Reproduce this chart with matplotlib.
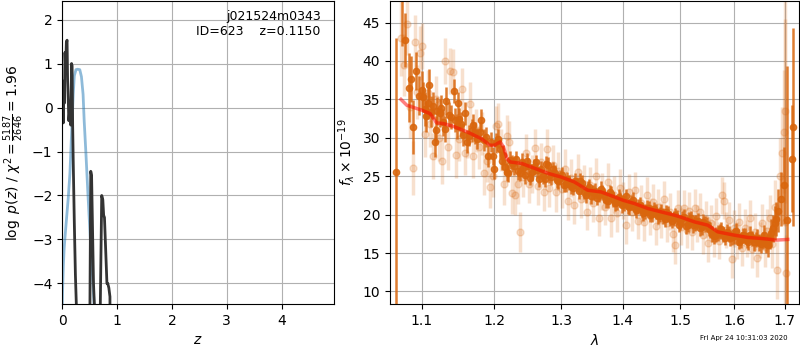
import numpy as np
import matplotlib
matplotlib.use("Agg")
import matplotlib.pyplot as plt
from matplotlib.ticker import FixedLocator, FixedFormatter, NullLocator

# ---------------- data: left panel (redshift PDF) ----------------
pz_z = [0.0, 0.005, 0.02, 0.035, 0.05, 0.08, 0.11, 0.14, 0.17, 0.20, 0.22,
        0.25, 0.28, 0.32, 0.35, 0.38, 0.40, 0.43, 0.47, 0.50, 0.53, 0.56, 0.59]
pz_logp = [-4.6, -4.2, -3.6, -3.2, -2.95, -2.5, -2.05, -1.5, -0.6, 0.3, 0.72,
           0.86, 0.87, 0.86, 0.7, 0.3, -0.3, -1.0, -2.0, -2.7, -3.4, -4.0, -4.7]

chi_z = [0.0, 0.005, 0.012, 0.02, 0.03, 0.04, 0.05, 0.062, 0.075, 0.088, 0.098,
         0.11, 0.12, 0.14, 0.155, 0.17, 0.18, 0.19, 0.20, 0.22, 0.24, 0.26, 0.27,
         0.49, 0.505, 0.52, 0.535, 0.55, 0.57, 0.59, 0.60,
         0.68, 0.694, 0.72, 0.74, 0.755, 0.77, 0.785, 0.80, 0.815, 0.83, 0.85, 0.87, 0.88]
chi_logp = [0.58, -0.3, 0.55, -0.35, 0.6, 0.1, 1.25, 0.9, 1.48, 1.53, 0.6,
            0.17, -0.3, 0.0, -0.4, 1.0, 0.95, -0.4, -1.2, -2.6, -3.8, -4.6, -10.0,
            -10.0, -4.5, -1.45, -1.55, -2.6, -4.0, -4.6, -10.0,
            -10.0, -4.5, -2.0, -2.1, -2.45, -2.5, -3.0, -3.5, -4.0, -4.0, -4.1, -4.3, -10.0]

# ---------------- data: right panel (spectrum) ----------------
model_wave = [1.073, 1.0805, 1.100, 1.111, 1.1198, 1.1287, 1.1422, 1.1616, 1.1813,
              1.1939, 1.200, 1.2084, 1.2134, 1.2183, 1.2231, 1.2404, 1.2604, 1.2807,
              1.300, 1.3208, 1.3422, 1.3638, 1.3859, 1.400, 1.4195, 1.4425, 1.4657,
              1.4893, 1.500, 1.5253, 1.550, 1.5687, 1.600, 1.6262, 1.6523, 1.6722,
              1.680, 1.706]
model_flux = [35.0, 34.24, 33.6, 33.16, 31.94, 31.86, 31.5, 30.77, 29.9,
              29.03, 29.03, 29.46, 28.8, 27.3, 26.86, 26.65, 26.0, 25.35,
              24.9, 24.26, 23.18, 22.96, 22.31, 21.88, 21.45, 20.8, 20.36,
              19.93, 19.7, 19.06, 18.63, 17.76, 17.33, 17.03, 16.9, 16.77,
              16.68, 16.77]

dark_wave = [1.0667, 1.0740, 1.0783, 1.0830, 1.0859, 1.0890, 1.0928, 1.0960, 1.1000,
             1.1040, 1.1087, 1.1120, 1.1175, 1.1210, 1.1240, 1.1280, 1.1328, 1.1396,
             1.1430, 1.1470, 1.1510, 1.1560, 1.1610, 1.1680, 1.1720, 1.1760, 1.1810,
             1.1850, 1.1910, 1.1950, 1.2000, 1.2030, 1.2080, 1.2130, 1.2180, 1.2230,
             1.2290, 1.2340, 1.2400, 1.2450, 1.2500, 1.2560, 1.2610, 1.2660, 1.2720,
             1.2770, 1.2820, 1.2880, 1.2930, 1.2990, 1.3050, 1.3100, 1.3160, 1.3220,
             1.3280, 1.3330, 1.3390, 1.3450, 1.3510, 1.3570, 1.3630, 1.3690, 1.3750,
             1.3810, 1.3870, 1.3930, 1.3990, 1.4050, 1.4110, 1.4170, 1.4230, 1.4290,
             1.4350, 1.4410, 1.4470, 1.4530, 1.4600, 1.4660, 1.4720, 1.4780, 1.4850,
             1.4910, 1.4970, 1.5030, 1.5100, 1.5160, 1.5230, 1.5290, 1.5360, 1.5420,
             1.5490, 1.5550, 1.5620, 1.5690, 1.5750, 1.5820, 1.5890, 1.5960, 1.6030,
             1.6100, 1.6170, 1.6240, 1.6310, 1.6380, 1.6450, 1.6520, 1.6590, 1.6660,
             1.6730, 1.6800, 1.6860, 1.6920, 1.6983, 1.7050, 1.7140, 1.7162]
dark_flux = [25.5, 50.0, 42.7, 36.5, 37.6, 31.4, 38.7, 35.5, 36.2,
             33.8, 34.5, 33.4, 29.5, 33.5, 33.2, 32.0, 34.8, 32.7,
             36.1, 31.5, 32.4, 30.4, 29.5, 31.0, 30.6, 29.9, 32.3,
             29.7, 27.6, 29.4, 26.0, 29.3, 28.6, 27.7, 25.6, 27.1,
             26.3, 25.7, 26.9, 25.1, 26.3, 25.5, 26.8, 24.6, 25.0,
             26.6, 25.1, 25.9, 24.5, 24.8, 23.9, 24.6, 23.7, 24.4,
             23.1, 24.1, 22.5, 23.6, 22.9, 22.2, 23.4, 22.5, 21.8,
             22.7, 21.5, 22.3, 21.2, 22.4, 21.0, 21.9, 20.6, 21.3,
             20.2, 20.9, 20.0, 20.7, 19.8, 20.4, 19.4, 20.1, 19.2,
             19.9, 18.7, 19.5, 18.5, 19.3, 18.6, 19.0, 18.2, 19.1,
             18.7, 18.0, 17.2, 17.6, 18.1, 17.0, 17.5, 17.1, 17.9,
             16.5, 17.3, 16.7, 17.4, 16.4, 17.0, 16.2, 17.3, 16.0,
             17.6, 18.9, 20.5, 22.0, 23.8, 19.3, 27.3, 31.4]
dark_err = [17.5, 8.0, 3.5, 4.5, 3.0, 3.5, 2.5, 2.5, 2.5,
            2.2, 2.0, 2.0, 2.0, 1.8, 1.8, 1.8, 1.8, 1.6,
            1.6, 1.6, 1.5, 1.5, 1.5, 1.5, 1.4, 1.4, 1.4,
            1.4, 1.4, 1.3, 1.3, 1.3, 1.3, 1.3, 1.2, 1.2,
            1.2, 1.2, 1.1, 1.1, 1.1, 1.1, 1.0, 1.0, 1.0,
            1.0, 1.0, 1.0, 1.0, 1.0, 1.0, 1.0, 1.0, 1.0,
            1.0, 1.0, 1.0, 1.0, 1.0, 1.0, 1.0, 1.0, 1.0,
            1.0, 1.0, 1.0, 1.0, 1.0, 1.0, 1.0, 1.0, 1.0,
            1.0, 1.0, 1.0, 1.0, 1.0, 1.0, 1.0, 1.0, 1.0,
            1.0, 1.0, 1.0, 1.0, 1.0, 1.0, 1.0, 1.0, 1.0,
            1.0, 1.0, 1.0, 1.0, 1.0, 1.0, 1.0, 1.0, 1.0,
            1.0, 1.0, 1.0, 1.1, 1.1, 1.1, 1.2, 1.3, 1.5,
            1.8, 2.2, 2.8, 3.5, 5.0, 20.0, 7.0, 12.9]

dark2_wave = [1.1015, 1.1060, 1.1100, 1.1150, 1.1195, 1.1260, 1.1305, 1.1365, 1.1450,
              1.1490, 1.1535, 1.1585, 1.1640, 1.1700, 1.1790, 1.1880, 1.1980, 1.2055,
              1.2105, 1.2155, 1.2205, 1.2260, 1.2320, 1.2370, 1.2425, 1.2475, 1.2530,
              1.2585, 1.2635, 1.2690, 1.2745, 1.2795, 1.2850, 1.2905, 1.2960, 1.3020,
              1.3075, 1.3130, 1.3190, 1.3250, 1.3305, 1.3360, 1.3420, 1.3480, 1.3540,
              1.3600, 1.3660, 1.3720, 1.3780, 1.3840, 1.3900, 1.3960, 1.4020, 1.4080,
              1.4140, 1.4200, 1.4260, 1.4320, 1.4380, 1.4440, 1.4500, 1.4565, 1.4630,
              1.4690, 1.4750, 1.4815, 1.4880, 1.4940, 1.5000, 1.5065, 1.5130, 1.5195,
              1.5260, 1.5325, 1.5390, 1.5455, 1.5520, 1.5585, 1.5655, 1.5720, 1.5785,
              1.5855, 1.5925, 1.5995, 1.6065, 1.6135, 1.6205, 1.6275, 1.6345, 1.6415,
              1.6485, 1.6555, 1.6625, 1.6695, 1.6765, 1.6830]
dark2_flux = [35.3, 32.8, 36.9, 34.2, 31.0, 33.9, 31.2, 33.0, 32.3,
              34.5, 31.8, 33.2, 30.3, 31.7, 30.8, 30.1, 27.6, 29.9,
              27.0, 26.2, 25.4, 26.7, 27.3, 25.4, 26.1, 27.0, 24.8,
              26.2, 25.8, 26.0, 24.6, 26.5, 24.9, 25.4, 24.4, 25.2,
              24.0, 24.2, 23.5, 23.9, 24.4, 23.0, 23.4, 22.4, 23.1,
              22.6, 22.9, 21.9, 22.9, 22.0, 21.6, 22.0, 21.5, 21.1,
              21.6, 20.9, 21.1, 20.6, 20.4, 20.8, 20.1, 20.4, 20.0,
              19.8, 20.3, 19.5, 19.5, 19.6, 19.0, 19.7, 18.7, 19.5,
              18.9, 19.2, 18.4, 18.8, 18.2, 17.5, 17.4, 17.8, 17.4,
              17.8, 16.9, 17.2, 17.1, 16.7, 17.2, 16.4, 16.9, 16.8,
              16.4, 16.6, 16.2, 16.9, 18.2, 19.4]
dark2_err = [2.0, 2.0, 2.0, 1.8, 1.8, 1.7, 1.7, 1.6, 1.6,
             1.5, 1.5, 1.5, 1.4, 1.4, 1.3, 1.3, 1.2, 1.2,
             1.2, 1.1, 1.1, 1.1, 1.0, 1.0, 1.0, 1.0, 1.0,
             1.0, 1.0, 1.0, 1.0, 1.0, 1.0, 1.0, 1.0, 1.0,
             1.0, 1.0, 1.0, 1.0, 1.0, 1.0, 1.0, 1.0, 1.0,
             1.0, 1.0, 1.0, 1.0, 1.0, 1.0, 1.0, 1.0, 1.0,
             1.0, 1.0, 1.0, 1.0, 1.0, 1.0, 1.0, 1.0, 1.0,
             1.0, 1.0, 1.0, 1.0, 1.0, 1.0, 1.0, 1.0, 1.0,
             1.0, 1.0, 1.0, 1.0, 1.0, 1.0, 1.0, 1.0, 1.0,
             1.0, 1.0, 1.0, 1.0, 1.0, 1.0, 1.0, 1.0, 1.0,
             1.1, 1.1, 1.2, 1.4, 1.7, 2.2]

light_wave = [1.0730, 1.0770, 1.0810, 1.0850, 1.0880, 1.0910, 1.0940, 1.0975, 1.1010,
              1.1050, 1.1080, 1.1110, 1.1150, 1.1190, 1.1230, 1.1270, 1.1310, 1.1350,
              1.1380, 1.1420, 1.1460, 1.1500, 1.1540, 1.1580, 1.1620, 1.1660, 1.1700,
              1.1740, 1.1780, 1.1820, 1.1860, 1.1900, 1.1940, 1.1980, 1.2020, 1.2060,
              1.2100, 1.2140, 1.2180, 1.2220, 1.2260, 1.2300, 1.2340, 1.2380, 1.2420,
              1.2460, 1.2510, 1.2550, 1.2600, 1.2640, 1.2690, 1.2730, 1.2780, 1.2820,
              1.2870, 1.2920, 1.2960, 1.3010, 1.3060, 1.3110, 1.3160, 1.3210, 1.3260,
              1.3310, 1.3360, 1.3410, 1.3460, 1.3510, 1.3560, 1.3610, 1.3660, 1.3710,
              1.3760, 1.3810, 1.3860, 1.3910, 1.3960, 1.4010, 1.4060, 1.4110, 1.4160,
              1.4210, 1.4260, 1.4310, 1.4360, 1.4410, 1.4460, 1.4510, 1.4560, 1.4610,
              1.4660, 1.4710, 1.4760, 1.4810, 1.4860, 1.4910, 1.4960, 1.5010, 1.5060,
              1.5110, 1.5160, 1.5210, 1.5260, 1.5310, 1.5360, 1.5410, 1.5460, 1.5510,
              1.5560, 1.5610, 1.5660, 1.5710, 1.5760, 1.5800, 1.5850, 1.5900, 1.5950,
              1.6000, 1.6050, 1.6100, 1.6150, 1.6200, 1.6250, 1.6300, 1.6350, 1.6400,
              1.6450, 1.6500, 1.6550, 1.6600, 1.6650, 1.6700, 1.6750, 1.6800, 1.6850,
              1.6900, 1.6950, 1.6980, 1.7000, 1.7020, 1.7010]
light_flux = [43.0, 39.5, 44.8, 34.0, 26.1, 42.5, 36.0, 41.0, 42.0,
              30.5, 35.8, 31.8, 27.6, 35.0, 30.0, 27.0, 40.0, 28.8,
              38.7, 38.6, 27.8, 29.8, 36.3, 28.0, 30.2, 34.4, 27.6,
              31.0, 28.8, 30.5, 25.4, 27.0, 23.6, 25.0, 31.5, 31.8,
              28.4, 24.0, 30.3, 29.5, 22.8, 22.6, 24.0, 17.8, 24.9,
              28.0, 24.0, 25.3, 28.7, 23.7, 26.8, 23.0, 28.6, 23.5,
              26.5, 22.9, 25.7, 23.4, 26.0, 21.8, 24.8, 21.2, 25.5,
              22.0, 24.0, 20.4, 23.8, 21.5, 25.0, 19.6, 23.0, 21.0,
              24.3, 19.5, 22.6, 20.2, 23.5, 21.8, 18.6, 22.9, 20.3,
              23.2, 19.2, 21.5, 19.0, 22.5, 19.8, 21.6, 18.5, 21.0,
              19.3, 22.0, 18.9, 20.4, 17.5, 16.0, 20.8, 18.4, 20.8,
              18.0, 20.5, 17.8, 20.9, 18.8, 20.4, 17.3, 19.4, 16.3,
              18.9, 16.9, 19.8, 16.6, 22.5, 21.8, 18.0, 19.3, 14.2,
              18.2, 16.6, 19.1, 15.7, 18.3, 16.9, 19.5, 15.5, 17.8,
              14.3, 16.7, 18.9, 15.8, 17.9, 19.6, 16.2, 21.0, 12.8,
              25.0, 28.0, 30.8, 33.5, 12.4, 19.0]
light_err = [5.0, 4.0, 4.0, 4.0, 3.5, 3.5, 3.5, 3.5, 3.0,
             3.0, 3.0, 3.0, 3.0, 3.0, 3.0, 3.0, 3.0, 3.0,
             3.0, 3.0, 3.0, 2.8, 2.8, 2.8, 2.8, 2.8, 2.8,
             2.8, 2.8, 2.8, 2.8, 2.8, 2.8, 2.7, 2.7, 2.7,
             2.7, 2.7, 2.7, 2.7, 2.7, 2.7, 2.6, 2.6, 2.6,
             2.5, 2.5, 2.5, 2.5, 2.5, 2.5, 2.5, 2.5, 2.5,
             2.5, 2.5, 2.5, 2.5, 2.5, 2.5, 2.5, 2.4, 2.4,
             2.4, 2.4, 2.4, 2.4, 2.4, 2.4, 2.4, 2.4, 2.4,
             2.4, 2.4, 2.4, 2.4, 2.4, 2.4, 2.4, 2.4, 2.4,
             2.4, 2.4, 2.4, 2.4, 2.4, 2.4, 2.4, 2.4, 2.4,
             2.4, 2.4, 2.4, 2.4, 2.4, 2.4, 2.4, 2.4, 2.4,
             2.4, 2.4, 2.4, 2.4, 2.4, 2.4, 2.4, 2.4, 2.4,
             2.4, 2.4, 2.4, 2.4, 2.4, 2.4, 2.4, 2.4, 2.4,
             2.4, 2.4, 2.4, 2.4, 2.4, 2.4, 2.4, 2.4, 2.4,
             2.4, 2.4, 2.5, 2.6, 2.8, 3.0, 3.2, 3.5, 3.8,
             5.0, 6.0, 8.0, 12.0, 5.0, 30.0]

wave_ticks = [1.1, 1.2, 1.3, 1.4, 1.5, 1.6, 1.7]
wave_ticklabels = ['1.1', '1.2', '1.3', '1.4', '1.5', '1.6', '1.7']

title_text = 'j021524m0343\nID=623    z=0.1150'
stamp_text = 'Fri Apr 24 10:31:03 2020'

# ---------------- figure ----------------
fig = plt.figure(figsize=(8, 3.5), dpi=100)
ax1 = fig.add_axes([0.0778, 0.131, 0.340, 0.866])
ax2 = fig.add_axes([0.4875, 0.131, 0.5112, 0.866])

# left panel
ax1.plot(pz_z, pz_logp, color='tab:blue', alpha=0.5, lw=2)
ax1.plot(chi_z, chi_logp, color='0.2', lw=2)
ax1.set_xlim(0, 4.96)
ax1.set_ylim(-4.47, 2.42)
ax1.set_yticks([-4, -3, -2, -1, 0, 1, 2])
ax1.set_xticks([0, 1, 2, 3, 4])
ax1.grid(True)
ax1.set_xlabel('$z$')
ax1.set_ylabel(r'$\log\ p(z)$ / $\chi^2=\frac{5187}{2646}=1.96$')
ax1.text(0.95, 0.97, title_text, ha='right', va='top', transform=ax1.transAxes,
         fontsize=9, linespacing=1.15)

# right panel
ocol = (0.85, 0.40, 0.05)
ax2.errorbar(light_wave, light_flux, yerr=light_err, marker='o', linestyle='None',
             color=ocol, alpha=0.2, ms=5, elinewidth=2.5, capsize=0)
ax2.errorbar(dark_wave, dark_flux, yerr=dark_err, marker='o', linestyle='None',
             color=ocol, alpha=0.85, ms=4.5, elinewidth=1.8, capsize=0)
ax2.errorbar(dark2_wave, dark2_flux, yerr=dark2_err, marker='o', linestyle='None',
             color=ocol, alpha=0.85, ms=4.5, elinewidth=1.8, capsize=0)
ax2.plot(model_wave, model_flux, color='red', alpha=0.5, lw=2.5, zorder=5)
ax2.set_xscale('log')
ax2.set_xlim(1.0590, 1.7290)
ax2.set_ylim(8.35, 47.8)
ax2.xaxis.set_major_locator(FixedLocator(wave_ticks))
ax2.xaxis.set_major_formatter(FixedFormatter(wave_ticklabels))
ax2.xaxis.set_minor_locator(NullLocator())
ax2.grid(True)
ax2.set_xlabel(r'$\lambda$')
ax2.set_ylabel(r'$f_\lambda\times10^{-19}$')

fig.text(0.985, 0.025, stamp_text, ha='right', va='bottom', fontsize=5)

fig.savefig('out.png', dpi=100)
